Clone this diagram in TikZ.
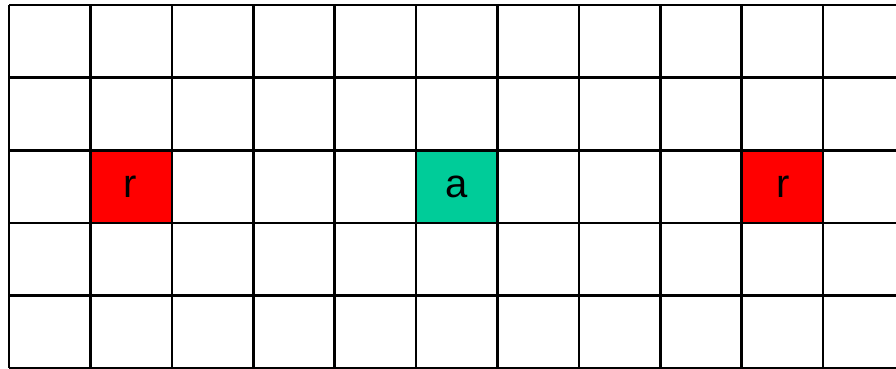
\documentclass[tikz,border=0pt]{standalone}
\usepackage{fontspec}
\setmainfont{Liberation Sans}
\definecolor{cellred}{HTML}{FF0000}
\definecolor{cellgreen}{HTML}{00CC99}
\begin{document}
\begin{tikzpicture}[x=1pt,y=-1pt,
  gridline/.style={line width=2.6pt,black},
  cell/.style={draw=none,minimum width=81.4pt,minimum height=72.6pt,inner sep=0pt,font=\fontsize{40}{40}\selectfont}]
\useasboundingbox[fill=white] (0,0) rectangle (896,369);
% filled cells
\node[cell,fill=cellred]   (r1) at (130.1,186.5) {r};
\node[cell,fill=cellgreen] (a)  at (456.5,186.5) {a};
\node[cell,fill=cellred]   (r2) at (782.9,186.5) {r};
% grid lines
\foreach \i in {0,...,10} {
  \draw[gridline] ({9+81.4*\i},5) -- ({9+81.4*\i},368);
}
\foreach \j in {0,...,5} {
  \draw[gridline] (9,{5+72.6*\j}) -- (897,{5+72.6*\j});
}
\end{tikzpicture}
\end{document}
